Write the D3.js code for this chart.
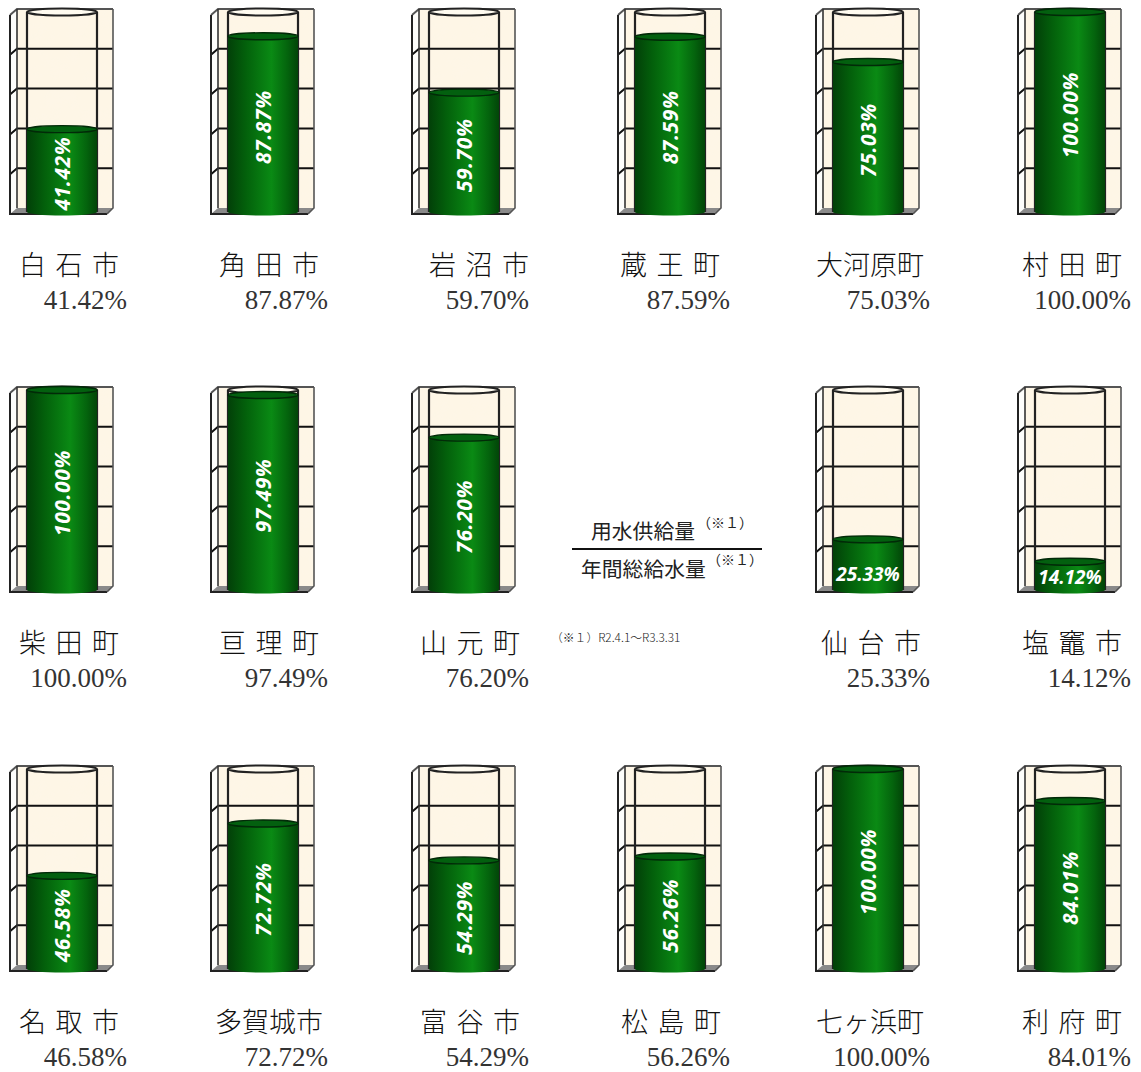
<!DOCTYPE html>
<html><head><meta charset="utf-8">
<script src="https://d3js.org/d3.v7.min.js"></script>
<style>html,body{margin:0;padding:0;background:#fff}svg{display:block}</style>
</head><body><div id="c"></div>
<script>
const categories=["白 石 市","角 田 市","岩 沼 市","蔵 王 町","大河原町","村 田 町","柴 田 町","亘 理 町","山 元 町","仙 台 市","塩 竈 市","名 取 市","多賀城市","富 谷 市","松 島 町","七ヶ浜町","利 府 町"];
const values=[41.42,87.87,59.70,87.59,75.03,100,100,97.49,76.20,25.33,14.12,46.58,72.72,54.29,56.26,100,84.01];
const columns=[0,1,2,3,4,5,0,1,2,4,5,0,1,2,3,4,5];
const rows=[0,0,0,0,0,0,1,1,1,1,1,2,2,2,2,2,2];
const gridTicks=[0,20,40,60,80,100];
const colLeft=[10,211,412,618,816,1018];
const rowTop=[9,387,766];
const valueRight=[127,328,529,730,930,1131];
const nameLeft=[19,219,429,620,816,1022,19,219,420,821,1022,19,215,420,621,816,1022];

const W=1141,H=1072;
const svg=d3.select("#c").append("svg").attr("width",W).attr("height",H).attr("viewBox",`0 0 ${W} ${H}`);
const defs=svg.append("defs");
const g=defs.append("linearGradient").attr("id","cyl");
[[0,"#024008"],[.25,"#03600b"],[.62,"#0a8a14"],[.85,"#04640d"],[1,"#024508"]].forEach(d=>g.append("stop").attr("offset",d[0]).attr("stop-color",d[1]));
const f=defs.append("filter").attr("id","paper").attr("x",0).attr("y",0).attr("width",1).attr("height",1);
f.append("feTurbulence").attr("type","fractalNoise").attr("baseFrequency",0.05).attr("numOctaves",3).attr("seed",4).attr("result","n");
f.append("feColorMatrix").attr("in","n").attr("type","matrix").attr("values","0 0 0 0 0.984  0 0 0 0 0.925  0 0 0 0 0.80  0.9 0 0 0 -0.2").attr("result","t");
f.append("feComposite").attr("in","t").attr("in2","SourceGraphic").attr("operator","in").attr("result","c");
f.append("feMerge").selectAll("feMergeNode").data(["SourceGraphic","c"]).join("feMergeNode").attr("in",d=>d);

const y=d3.scaleLinear().domain([0,100]).range([199,0]);   // back wall
const cy=d3.scaleLinear().domain([0,100]).range([203,3]);  // cylinder
const cx0=17,cx1=87,rx=35,ry=3.5;
const fmt=d3.format(".2f");

categories.forEach((name,i)=>{
  const v=values[i],X=colLeft[columns[i]],Y=rowTop[rows[i]];
  const c=svg.append("g").attr("transform",`translate(${X},${Y})`);
  c.append("rect").attr("x",7).attr("y",0).attr("width",96).attr("height",199).attr("fill","#fef6e6").attr("filter","url(#paper)");
  c.append("path").attr("d","M0,6L7,0V199L0,205Z").attr("fill","#fdfdfb");
  c.append("path").attr("d","M0,205L7,199H103L97,205Z").attr("fill","#8a8a8a");
  gridTicks.forEach(t=>{
    if(t===0) return;
    const yy=y(t);
    c.append("path").attr("d",`M0,${yy+6}L7,${yy}H103`).attr("fill","none").attr("stroke",t===100?"#555":"#111").attr("stroke-width",2);
  });
  c.append("path").attr("d","M0,6V205H97").attr("fill","none").attr("stroke","#222").attr("stroke-width",2);
  c.append("path").attr("d","M7,0V199").attr("fill","none").attr("stroke","#333").attr("stroke-width",1.6);
  c.append("path").attr("d","M103,0V199L97,205").attr("fill","none").attr("stroke","#555").attr("stroke-width",1.6);
  c.append("path").attr("d",`M${cx0},${cy(100)}V${cy(0)}M${cx1},${cy(100)}V${cy(0)}`).attr("stroke","#222").attr("stroke-width",2.2).attr("fill","none");
  c.append("ellipse").attr("cx",52).attr("cy",cy(100)).attr("rx",rx).attr("ry",ry).attr("fill","#fffbf0").attr("stroke","#222").attr("stroke-width",2);
  const ty=cy(v);
  c.append("path").attr("d",`M${cx0},${ty}V${cy(0)}A${rx},${ry} 0 0 0 ${cx1},${cy(0)}V${ty}Z`).attr("fill","url(#cyl)");
  c.append("ellipse").attr("cx",52).attr("cy",ty).attr("rx",rx).attr("ry",ry).attr("fill","#03600f").attr("stroke","#022a08").attr("stroke-width",1.4);
  const mid=(ty+cy(0))/2+3;
  const lab=c.append("text").text(fmt(v)+"%")
    .attr("fill","#fff").attr("font-family","'Open Sans','Noto Sans',sans-serif")
    .attr("font-weight",700).attr("font-style","italic").attr("text-anchor","middle").attr("dominant-baseline","central");
  if(v<30) lab.attr("x",52).attr("y",cy(0)-(v>20?16:13)).attr("font-size",19);
  else lab.attr("font-size",21).attr("letter-spacing",0.6).attr("transform",`translate(52,${mid}) rotate(-90)`);
  svg.append("text").text(name).attr("x",nameLeft[i]).attr("y",Y+254)
    .attr("font-family","'Noto Sans CJK JP'").attr("font-size",27).attr("font-weight",300).attr("word-spacing",3.5)
    .attr("dominant-baseline","central").attr("fill","#111");
  svg.append("text").text(fmt(v)+"%").attr("x",valueRight[columns[i]]).attr("y",Y+300)
    .attr("text-anchor","end").attr("font-family","'Liberation Serif',serif").attr("font-size",27).attr("fill","#333");
});

const note=svg.append("g").attr("font-family","'Noto Sans CJK JP'").attr("fill","#222");
note.append("text").text("用水供給量").attr("x",591).attr("y",539).attr("font-size",20.8);
note.append("text").text("（※１）").attr("x",697).attr("y",528).attr("font-size",14);
svg.append("line").attr("x1",572).attr("x2",762).attr("y1",549).attr("y2",549).attr("stroke","#111").attr("stroke-width",2);
note.append("text").text("年間総給水量").attr("x",581).attr("y",577).attr("font-size",20.8);
note.append("text").text("（※１）").attr("x",707).attr("y",565).attr("font-size",14);
note.append("text").text("（※１）R2.4.1～R3.3.31").attr("x",551).attr("y",642).attr("font-size",11.8).attr("font-weight",300);
</script></body></html>
